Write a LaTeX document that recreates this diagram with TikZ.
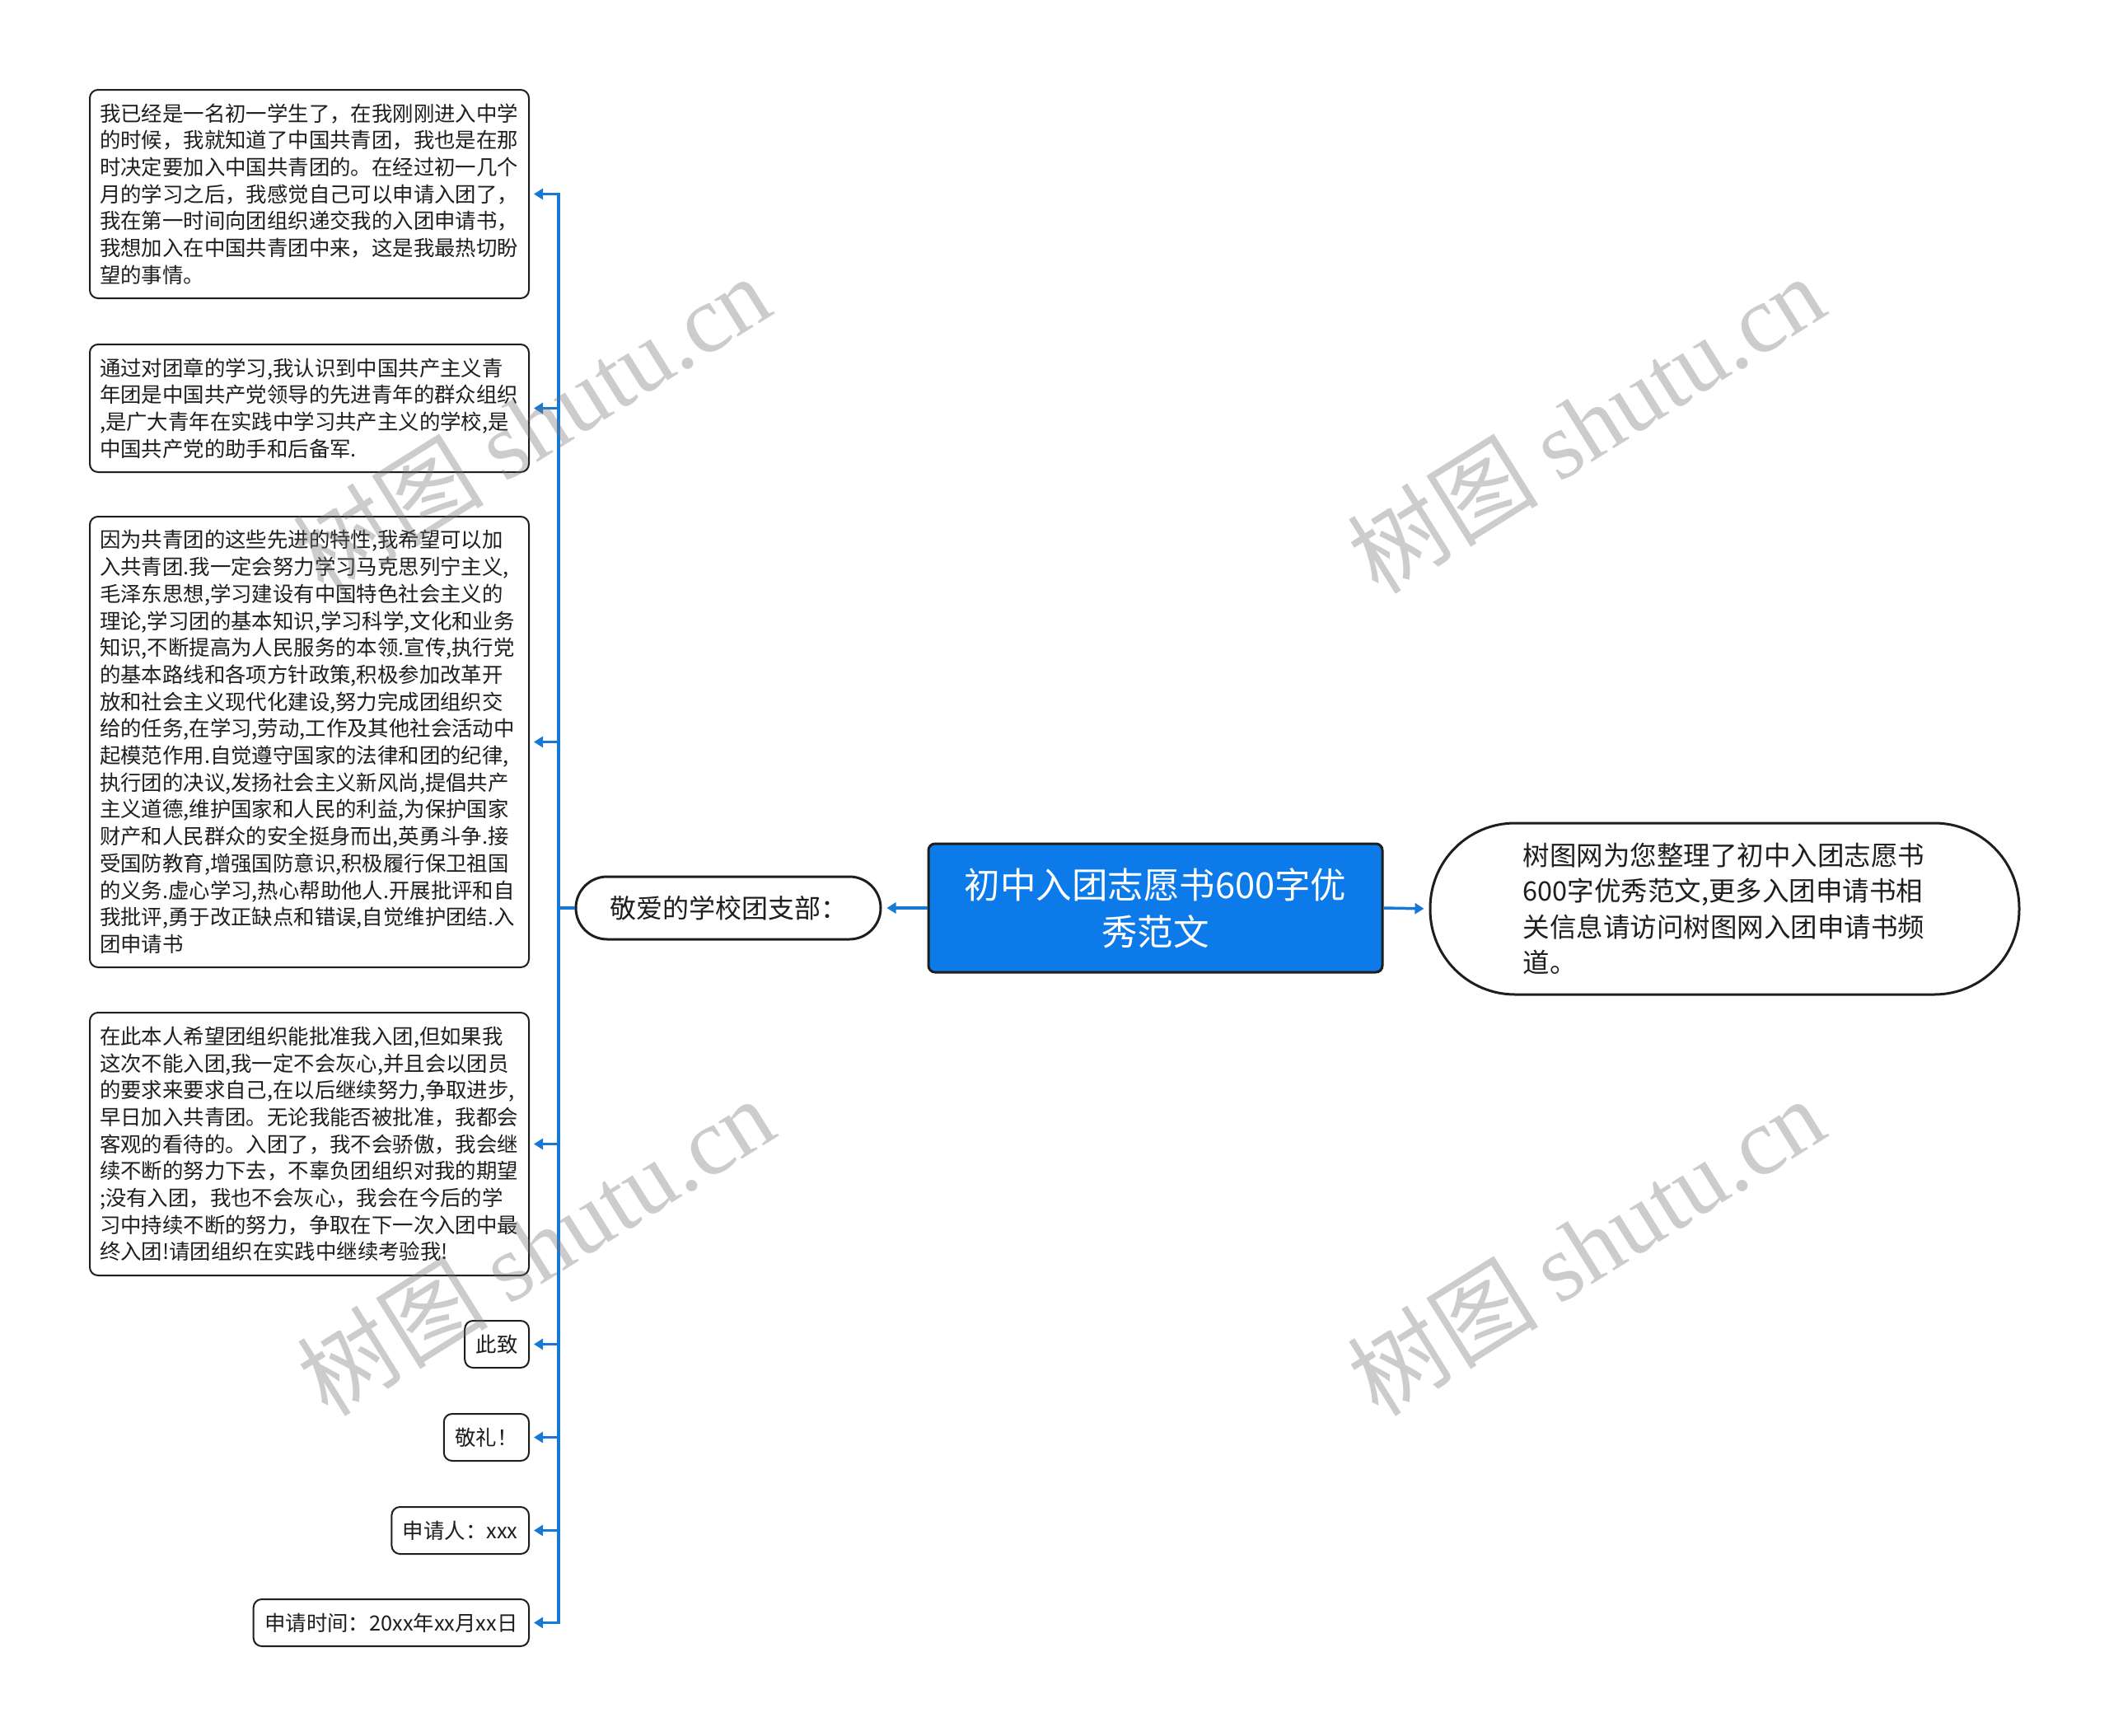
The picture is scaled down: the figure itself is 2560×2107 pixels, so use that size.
\documentclass[tikz,border=0pt]{standalone}
\usepackage{fontspec}
\setmainfont{Noto Sans CJK SC}
\newfontfamily\wmlatin{Liberation Serif}
\usetikzlibrary{arrows.meta}
\definecolor{mainblue}{RGB}{12,122,232}
\definecolor{connblue}{RGB}{24,120,214}
\definecolor{txt}{RGB}{30,30,30}
\tikzset{
  textbox/.style={draw=txt, line width=2pt, rounded corners=10pt, fill=white,
    text width=509pt, inner xsep=12pt, inner ysep=0pt, align=left, text=txt,
    font=\fontsize{25.4pt}{32.7pt}\selectfont},
  smallbox/.style={draw=txt, line width=2pt, rounded corners=10pt, fill=white,
    minimum height=57pt, inner xsep=13.5pt, inner ysep=0pt, text=txt, anchor=east,
    font=\fontsize{25.4pt}{32.7pt}\selectfont},
  conn/.style={draw=connblue, line width=3.5pt, -{Triangle[length=11pt,width=13pt]}, shorten >=5pt},
  wm/.style={text=black!55, opacity=0.36, rotate=32, inner sep=0pt,
    font=\fontsize{116pt}{120pt}\selectfont}
}
\begin{document}
\begin{tikzpicture}[x=1pt,y=-1pt]
\useasboundingbox (0,0) rectangle (2560,2107);
\fill[white] (0,0) rectangle (2560,2107);

% main nodes
\node[draw=txt, line width=3pt, fill=mainblue, rounded corners=8pt,
  minimum width=551pt, minimum height=156pt, text width=520pt, align=center,
  text=white, font=\fontsize{43.5pt}{57pt}\selectfont]
  (central) at (1402.5,1102) {初中入团志愿书600字优\\秀范文};

\node[draw=txt, line width=3pt, fill=white, rounded corners=38pt,
  minimum width=370pt, minimum height=76pt, text=txt,
  font=\fontsize{32pt}{36pt}\selectfont]
  (jingai) at (884,1102) {敬爱的学校团支部：};

\node[draw=txt, line width=3pt, fill=white, rounded corners=103pt,
  minimum width=715pt, minimum height=208pt, text width=490pt, align=left, text=txt,
  font=\fontsize{32.5pt}{43.5pt}\selectfont]
  (right) at (2093.5,1103) {树图网为您整理了初中入团志愿书\\600字优秀范文,更多入团申请书相\\关信息请访问树图网入团申请书频\\道。};

% left boxes
\node[textbox, minimum height=253pt] (b1) at (375.5,235.5)
 {我已经是一名初一学生了，在我刚刚进入中学\\的时候，我就知道了中国共青团，我也是在那\\时决定要加入中国共青团的。在经过初一几个\\月的学习之后，我感觉自己可以申请入团了，\\我在第一时间向团组织递交我的入团申请书，\\我想加入在中国共青团中来，这是我最热切盼\\望的事情。};

\node[textbox, minimum height=155pt] (b2) at (375.5,495.5)
 {通过对团章的学习,我认识到中国共产主义青\\年团是中国共产党领导的先进青年的群众组织\\,是广大青年在实践中学习共产主义的学校,是\\中国共产党的助手和后备军.};

\node[textbox, minimum height=547pt] (b3) at (375.5,900.5)
 {因为共青团的这些先进的特性,我希望可以加\\入共青团.我一定会努力学习马克思列宁主义,\\毛泽东思想,学习建设有中国特色社会主义的\\理论,学习团的基本知识,学习科学,文化和业务\\知识,不断提高为人民服务的本领.宣传,执行党\\的基本路线和各项方针政策,积极参加改革开\\放和社会主义现代化建设,努力完成团组织交\\给的任务,在学习,劳动,工作及其他社会活动中\\起模范作用.自觉遵守国家的法律和团的纪律,\\执行团的决议,发扬社会主义新风尚,提倡共产\\主义道德,维护国家和人民的利益,为保护国家\\财产和人民群众的安全挺身而出,英勇斗争.接\\受国防教育,增强国防意识,积极履行保卫祖国\\的义务.虚心学习,热心帮助他人.开展批评和自\\我批评,勇于改正缺点和错误,自觉维护团结.入\\团申请书};

\node[textbox, minimum height=319pt] (b4) at (375.5,1388.5)
 {在此本人希望团组织能批准我入团,但如果我\\这次不能入团,我一定不会灰心,并且会以团员\\的要求来要求自己,在以后继续努力,争取进步,\\早日加入共青团。无论我能否被批准，我都会\\客观的看待的。入团了，我不会骄傲，我会继\\续不断的努力下去，不辜负团组织对我的期望\\;没有入团，我也不会灰心，我会在今后的学\\习中持续不断的努力，争取在下一次入团中最\\终入团!请团组织在实践中继续考验我!};

\node[smallbox] (b5) at (643,1631.5) {此致};
\node[smallbox] (b6) at (643,1744.5) {敬礼！};
\node[smallbox] (b7) at (643,1857.5) {申请人：xxx};
\node[smallbox] (b8) at (643,1969.5) {申请时间：20xx年xx月xx日};

% connectors
\coordinate (trunk) at (678,1102);
\draw[conn, shorten >=6pt] (central.west) -- (jingai.east);
\draw[conn, shorten >=6pt] (central.east) -- (right.west);
\foreach \b in {b1,b2,b3,b4,b5,b6,b7,b8}
  \draw[conn] (jingai.west) -- (trunk) |- (\b.east);

% watermarks
\node[wm] (wm1) at (645,514) {树图 {\wmlatin shutu.cn}};
\node[wm] (wm2) at (1925,514) {树图 {\wmlatin shutu.cn}};
\node[wm] (wm3) at (650,1512) {树图 {\wmlatin shutu.cn}};
\node[wm] (wm4) at (1925,1512) {树图 {\wmlatin shutu.cn}};
\end{tikzpicture}
\end{document}
